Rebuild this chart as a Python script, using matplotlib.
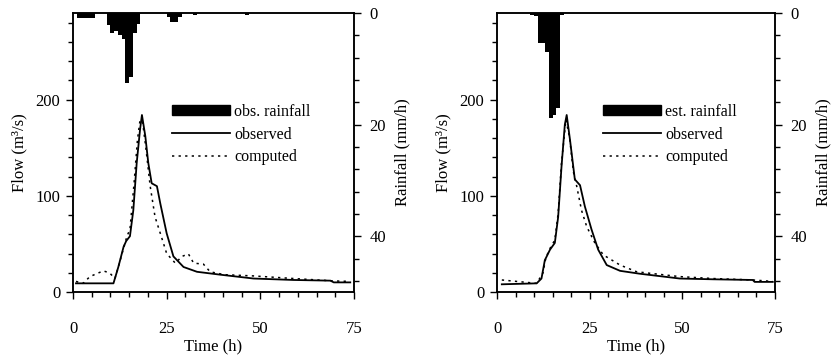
import matplotlib
matplotlib.use("Agg")
import matplotlib.pyplot as plt
from matplotlib.ticker import MultipleLocator, FixedLocator
from matplotlib.patches import Patch
from matplotlib.lines import Line2D

plt.rcParams['font.family'] = ['Liberation Serif', 'DejaVu Serif']

# ---- Left panel: observed rainfall ----
obs_rain_t = [1, 2, 3, 4, 5, 9, 10, 11, 12, 13, 14, 15, 16, 17, 25, 26, 27, 28, 32, 46]
obs_rain_v = [0.9, 0.9, 0.9, 0.9, 0.9, 2.1, 3.6, 3.2, 4.0, 4.7, 12.5, 11.5, 3.5, 2.0,
              0.8, 1.6, 1.7, 0.8, 0.4, 0.3]

left_obs_t = [0.8, 10.8, 12.1, 13.5, 14.2, 15.2, 16.1, 17.0, 17.9, 18.4, 19.3, 20.1, 21.0,
              22.4, 23.3, 25.0, 26.8, 29.5, 33.1, 39.3, 48.2, 58.9, 68.7, 69.6, 74.0]
left_obs_q = [9, 9, 26, 47, 53, 58, 85, 134, 169, 184, 162, 134, 113,
              110, 92, 61, 37, 26, 21, 18, 14, 12.5, 11.8, 10, 10]

left_cmp_t = [0.8, 2.7, 4.5, 8.1, 9.8, 11.2, 12.6, 14.4, 15.2, 16.3, 17.2, 17.9, 18.6, 19.5,
              20.6, 21.9, 23.3, 25.0, 27.3, 29.1, 30.8, 32.2, 34.8, 36.6, 40.4, 48.2,
              58.9, 69.6, 74.0]
left_cmp_q = [11, 9, 16, 22, 19.7, 14, 33, 58, 65, 113, 158, 179, 176, 148,
              110, 78, 61, 40, 30, 37, 39.6, 30, 29, 21, 18, 16.7,
              14, 11.5, 11]

# ---- Right panel: estimated rainfall ----
est_rain_t = [9, 10, 11, 12, 13, 14, 15, 16, 17]
est_rain_v = [0.3, 0.5, 5.4, 5.4, 7.0, 18.9, 18.3, 17.0, 0.3]

right_obs_t = [1.3, 10.7, 12.0, 12.9, 14.3, 15.6, 16.5, 17.4, 18.3, 18.8, 19.7, 21.0, 22.4,
               23.7, 25.5, 27.3, 29.6, 33.2, 38.5, 49.3, 58.3, 69.0, 69.5, 74.4]
right_obs_q = [8, 9, 14, 33, 44, 51, 78, 130, 174, 184, 158, 117, 111,
               89, 65, 44, 28, 22, 19, 14, 13.2, 12.5, 10.5, 10.5]

right_cmp_t = [1.3, 5.3, 10.7, 12.4, 13.2, 14.4, 15.6, 16.5, 17.4, 18.6, 19.6, 20.6, 21.5,
               22.8, 24.2, 26.4, 28.7, 33.2, 37.7, 49.3, 58.3, 69.0, 74.4]
right_cmp_q = [12.5, 11, 9, 19.8, 36, 46, 54, 82, 134, 179, 160, 125, 110,
               85, 68, 51, 38.5, 28, 21, 16, 14, 12.5, 11]

x_ticks = [0, 25, 50, 75]
flow_ticks = [0, 100, 200]
rain_ticks = [0, 20, 40]

fig = plt.figure(figsize=(8.31, 3.55), dpi=100)

W, H = 831, 355
panels = [
    (73, 281, 172, obs_rain_t, obs_rain_v, left_obs_t, left_obs_q, left_cmp_t, left_cmp_q, "obs. rainfall"),
    (497, 278, 603, est_rain_t, est_rain_v, right_obs_t, right_obs_q, right_cmp_t, right_cmp_q, "est. rainfall"),
]

dotted = (0, (1.5, 2.8))

for (x0, w, legx, rt, rv, ot, oq, ct, cq, rlab) in panels:
    ax = fig.add_axes([x0 / W, (H - 292) / H, w / W, 279 / H])
    ax.plot(ot, oq, color='black', lw=1.3, solid_joinstyle='round')
    ax.plot(ct, cq, color='black', lw=1.1, linestyle=dotted)
    ax.set_xlim(0, 75)
    ax.set_ylim(0, 290)
    ax.xaxis.set_major_locator(FixedLocator(x_ticks))
    ax.xaxis.set_minor_locator(MultipleLocator(5))
    ax.yaxis.set_major_locator(FixedLocator(flow_ticks))
    ax.yaxis.set_minor_locator(MultipleLocator(20))
    ax.tick_params(axis='both', which='major', direction='out', length=5, width=1,
                   labelsize=12)
    ax.tick_params(axis='both', which='minor', direction='out', length=3.5, width=1)
    ax.tick_params(axis='x', which='major', pad=16)
    ax.tick_params(axis='y', which='major', pad=4)
    ax.tick_params(axis='x', which='both', top=False)
    ax.tick_params(axis='y', which='both', right=False)
    ax.set_xlabel("Time (h)", fontsize=12, labelpad=1)
    ax.set_ylabel("Flow (m³/s)", fontsize=12, labelpad=6)
    for s in ax.spines.values():
        s.set_linewidth(1.1)

    ax2 = ax.twinx()
    ax2.bar(rt, rv, width=1.0, align='edge', color='black', linewidth=0)
    ax2.set_ylim(50, 0)
    ax2.yaxis.set_major_locator(FixedLocator(rain_ticks))
    ax2.yaxis.set_minor_locator(MultipleLocator(4))
    ax2.tick_params(axis='y', which='major', direction='out', length=5, width=1,
                    labelsize=12, pad=6)
    ax2.tick_params(axis='y', which='minor', direction='out', length=3.5, width=1)
    ax2.set_ylabel("Rainfall (mm/h)", fontsize=12, labelpad=6)
    for s in ax2.spines.values():
        s.set_linewidth(1.1)

    handles = [Patch(facecolor='black', edgecolor='black'),
               Line2D([], [], color='black', lw=1.3),
               Line2D([], [], color='black', lw=1.1, linestyle=dotted)]
    labels = [rlab, "observed", "computed"]
    ax2.legend(handles, labels, loc='upper left',
               bbox_to_anchor=((legx - x0) / w, (292 - 104) / 279),
               frameon=False, fontsize=11.5, handlelength=3.6, handleheight=0.6,
               handletextpad=0.3, borderpad=0, labelspacing=0.42,
               borderaxespad=0)

fig.savefig("out.png", dpi=100)
